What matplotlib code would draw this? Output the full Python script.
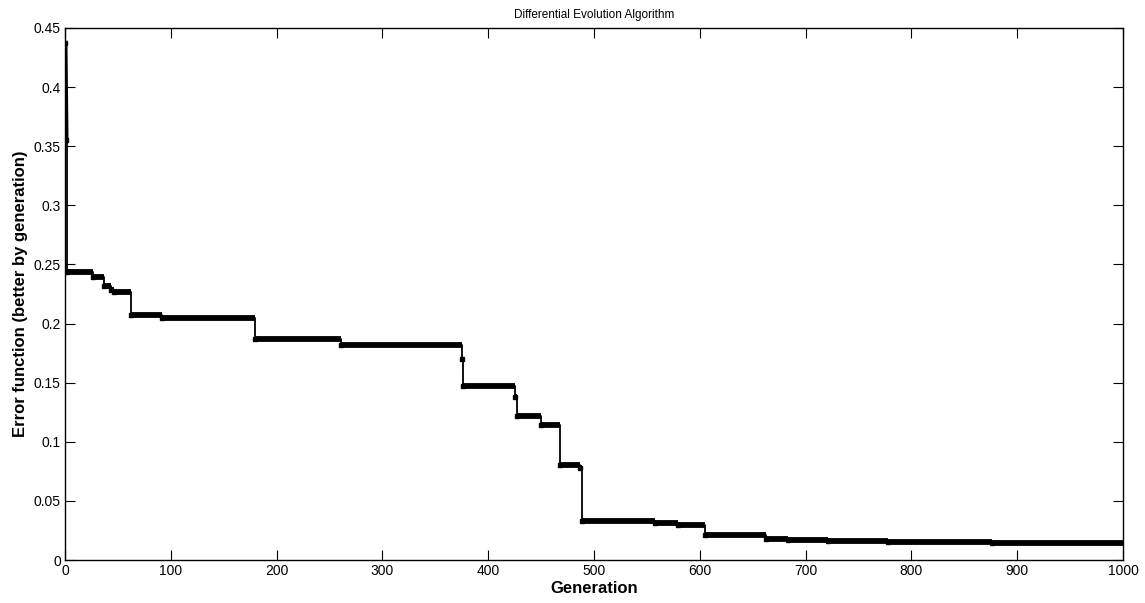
import matplotlib
matplotlib.use("Agg")
import matplotlib.pyplot as plt

# best error value, each entry holds from its generation until the next one
generacion = [0, 1, 2, 26, 37, 43, 46, 62, 92, 180, 261, 375, 376, 425, 427,
              450, 468, 487, 489, 558, 579, 605, 663, 683, 721, 778, 876]
error = [0.437, 0.355, 0.244, 0.2394, 0.232, 0.228, 0.227, 0.207, 0.2047,
         0.187, 0.182, 0.170, 0.147, 0.138, 0.122, 0.1142, 0.080, 0.0776,
         0.033, 0.031, 0.0296, 0.0214, 0.0178, 0.0166, 0.016, 0.0152, 0.0141]
gen_final = 1000

xticks = list(range(0, 1001, 100))
yticks = [0, 0.05, 0.1, 0.15, 0.2, 0.25, 0.3, 0.35, 0.4, 0.45]

plt.rcParams['font.family'] = ['Liberation Sans', 'DejaVu Sans']

fig = plt.figure(figsize=(11.45, 6.03), dpi=100)
ax = fig.add_axes([0.0568, 0.0713, 0.9240, 0.8823])

x_fin = generacion[1:] + [gen_final]

# lineas verticales finas (saltos entre generaciones)
ax.step(generacion + [gen_final], error + [error[-1]], where='post',
        color='black', lw=1.3)
# primera caida, se ve gruesa en el original
ax.plot(generacion[:2], error[:2], color='black', lw=3.5)
# tramos horizontales gruesos (marcadores superpuestos por generacion)
ax.hlines(error, generacion, x_fin, color='black', lw=4.2)
ax.plot(generacion, error, 's', color='black', ms=3)

ax.set_xlim(0, 1000)
ax.set_ylim(0, 0.45)
ax.set_xticks(xticks)
ax.set_yticks(yticks)
ax.set_xticklabels([str(t) for t in xticks])
ax.set_yticklabels(['0', '0.05', '0.1', '0.15', '0.2', '0.25', '0.3', '0.35', '0.4', '0.45'])
ax.tick_params(direction='in', length=7, width=0.8, labelsize=10,
               top=True, right=True, pad=3)
for s in ax.spines.values():
    s.set_linewidth(1.0)

ax.set_title('Differential Evolution Algorithm', fontsize=8.5, pad=7)
ax.set_xlabel('Generation', fontsize=12, fontweight='bold', labelpad=2)
ax.set_ylabel('Error function (better by generation)', fontsize=12,
              fontweight='bold', labelpad=4)

fig.savefig('out.png', dpi=100)
